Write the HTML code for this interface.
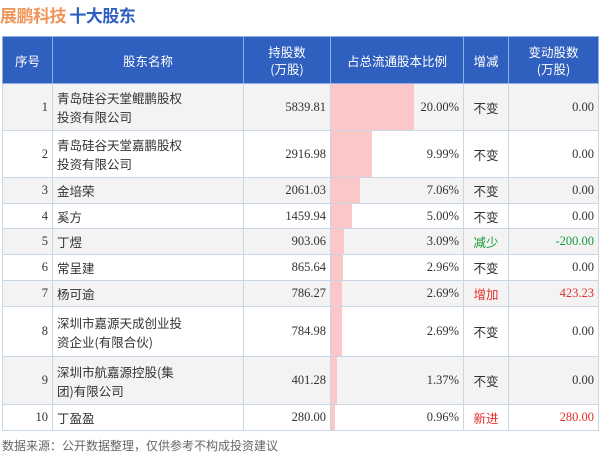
<!DOCTYPE html><html><head><meta charset="utf-8"><style>
body{margin:0;width:600px;height:459px;background:#fff;font-family:"Liberation Serif","Noto Sans CJK SC",serif;position:relative;overflow:hidden}
.t{position:absolute;top:2px;left:0;font-family:"Noto Sans CJK SC",sans-serif;font-size:17px;font-weight:bold;letter-spacing:-0.5px}
table{position:absolute;left:2px;top:36px;border-collapse:collapse;font-size:12.5px}
td,th{border:1px solid #c9d6e4;padding:0 4px;}
th{background:#2f5fbf;color:#fff;font-family:"Noto Sans CJK SC",sans-serif;font-weight:normal;font-size:12.5px;height:46px;line-height:17px;border-color:#8fb0e0}
td{text-align:right;color:#333;position:relative}
td.n{text-align:left;font-family:"Noto Sans CJK SC",sans-serif;line-height:19px;font-size:12.5px}
td.c{text-align:center;font-family:"Noto Sans CJK SC",sans-serif;font-size:12.5px}
tr.g td{background:#f3f3f3}
.bar{position:absolute;left:0;top:0;bottom:0;background:#fbc7c9}
.p{position:relative}
.r{color:#e0302b}.gr{color:#1a9a3a}
.f{position:absolute;left:2px;top:437px;font-family:"Noto Sans CJK SC",sans-serif;font-size:12px;color:#666}
</style></head><body>
<div class="t"><span style="color:#f0955a">展鹏科技</span> <span style="color:#2f5fbf">十大股东</span></div>
<table>
<tr><th style="width:41px">序号</th><th style="width:182px">股东名称</th><th style="width:78px">持股数<br>(万股)</th><th style="width:124px">占总流通股本比例</th><th style="width:36px">增减</th><th style="width:81px">变动股数<br>(万股)</th></tr>
<tr class="g" style="height:47px"><td>1</td><td class="n">青岛硅谷天堂鲲鹏股权<br>投资有限公司</td><td>5839.81</td><td><div class="bar" style="width:83px"></div><span class="p">20.00%</span></td><td class="c">不变</td><td>0.00</td></tr>
<tr style="height:47px"><td>2</td><td class="n">青岛硅谷天堂嘉鹏股权<br>投资有限公司</td><td>2916.98</td><td><div class="bar" style="width:41px"></div><span class="p">9.99%</span></td><td class="c">不变</td><td>0.00</td></tr>
<tr class="g" style="height:26px"><td>3</td><td class="n">金培荣</td><td>2061.03</td><td><div class="bar" style="width:29px"></div><span class="p">7.06%</span></td><td class="c">不变</td><td>0.00</td></tr>
<tr style="height:25px"><td>4</td><td class="n">奚方</td><td>1459.94</td><td><div class="bar" style="width:21px"></div><span class="p">5.00%</span></td><td class="c">不变</td><td>0.00</td></tr>
<tr class="g" style="height:26px"><td>5</td><td class="n">丁煜</td><td>903.06</td><td><div class="bar" style="width:13px"></div><span class="p">3.09%</span></td><td class="c gr">减少</td><td class="gr">-200.00</td></tr>
<tr style="height:26px"><td>6</td><td class="n">常呈建</td><td>865.64</td><td><div class="bar" style="width:12px"></div><span class="p">2.96%</span></td><td class="c">不变</td><td>0.00</td></tr>
<tr class="g" style="height:26px"><td>7</td><td class="n">杨可逾</td><td>786.27</td><td><div class="bar" style="width:11px"></div><span class="p">2.69%</span></td><td class="c r">增加</td><td class="r">423.23</td></tr>
<tr style="height:50px"><td>8</td><td class="n">深圳市嘉源天成创业投<br>资企业(有限合伙)</td><td>784.98</td><td><div class="bar" style="width:11px"></div><span class="p">2.69%</span></td><td class="c">不变</td><td>0.00</td></tr>
<tr class="g" style="height:48px"><td>9</td><td class="n">深圳市航嘉源控股(集<br>团)有限公司</td><td>401.28</td><td><div class="bar" style="width:6px"></div><span class="p">1.37%</span></td><td class="c">不变</td><td>0.00</td></tr>
<tr style="height:26px"><td>10</td><td class="n">丁盈盈</td><td>280.00</td><td><div class="bar" style="width:4px"></div><span class="p">0.96%</span></td><td class="c r">新进</td><td class="r">280.00</td></tr>
</table>
<div class="f">数据来源：公开数据整理，仅供参考不构成投资建议</div>
</body></html>
